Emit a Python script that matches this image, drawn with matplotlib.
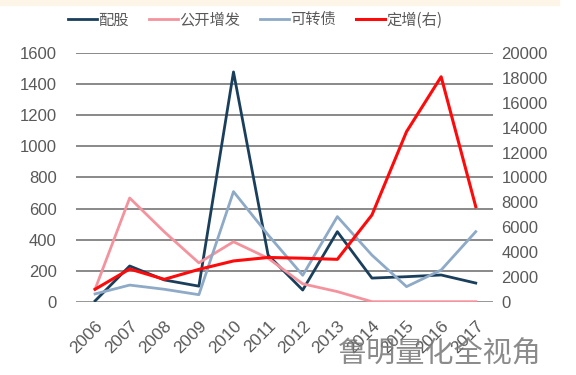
import matplotlib
matplotlib.use("Agg")
import matplotlib.pyplot as plt

years = ["2006", "2007", "2008", "2009", "2010", "2011", "2012", "2013", "2014", "2015", "2016", "2017"]
peigu = [5, 230, 140, 100, 1480, 300, 75, 451, 152, 161, 172, 120]
gongkai = [80, 668, 450, 250, 386, 280, 115, 65, 0, 0, 0, 0]
kezhuan = [50, 107, 80, 45, 709, 430, 170, 548, 300, 97, 204, 451]
dingzeng = [1000, 2630, 1800, 2600, 3280, 3560, 3500, 3410, 6980, 13690, 18110, 7650]

left_ticks = [0, 200, 400, 600, 800, 1000, 1200, 1400, 1600]
right_ticks = [0, 2000, 4000, 6000, 8000, 10000, 12000, 14000, 16000, 18000, 20000]

plt.rcParams['font.family'] = ['Liberation Sans', 'Noto Sans CJK SC', 'DejaVu Sans']

fig = plt.figure(figsize=(5.76, 3.75), dpi=100)
ax = fig.add_axes([0.132, 0.1955, 0.724, 0.6624])
ax2 = ax.twinx()

x = list(range(len(years)))
l1, = ax.plot(x, peigu, color='#1a3f5c', lw=2.0, label='配股', zorder=3)
l2, = ax.plot(x, gongkai, color='#f4939d', lw=2.0, label='公开增发', zorder=3)
l3, = ax.plot(x, kezhuan, color='#8eaac7', lw=2.0, label='可转债', zorder=3)
l4, = ax2.plot(x, dingzeng, color='#ff0a0a', lw=2.2, label='定增(右)', zorder=3)

ax.set_ylim(0, 1600)
ax2.set_ylim(0, 20000)
ax.set_xlim(-0.55, 11.5)
ax.set_yticks(left_ticks)
ax2.set_yticks(right_ticks)
ax.set_xticks(x)
ax.set_xticklabels(years, rotation=45, ha='right', rotation_mode='anchor')

for a in (ax, ax2):
    for s in a.spines.values():
        s.set_visible(False)
    a.tick_params(length=0, colors='#595959', labelsize=12)
ax.tick_params(axis='x', labelsize=12.5, pad=12)
ax.tick_params(axis='y', pad=14)
ax2.tick_params(axis='y', pad=6)

ax.grid(axis='y', color='#6a6a6a', lw=1.1)
ax.set_axisbelow(True)
ax.axhline(0, color='#d0d0d0', lw=1.0, zorder=2)

fig.legend(handles=[l1, l2, l3, l4], labels=['配股', '公开增发', '可转债', '定增(右)'],
           loc='center', bbox_to_anchor=(0.443, 0.947), ncol=4, frameon=False,
           prop={'family': ['Noto Sans CJK SC', 'DejaVu Sans'], 'size': 11},
           handlelength=1.9, handletextpad=0.1, columnspacing=1.3, labelcolor='#595959')

fig.patches.append(plt.Rectangle((0, 0.988), 0.97, 0.012, transform=fig.transFigure,
                                 color='#fdf6e8', zorder=0))

fig.text(0.764, 0.056, '鲁明量化全视角', fontsize=21, color='#777777', alpha=0.85,
         ha='center', va='center', family=['Noto Sans CJK SC', 'DejaVu Sans'])

fig.savefig('out.png', dpi=100)
